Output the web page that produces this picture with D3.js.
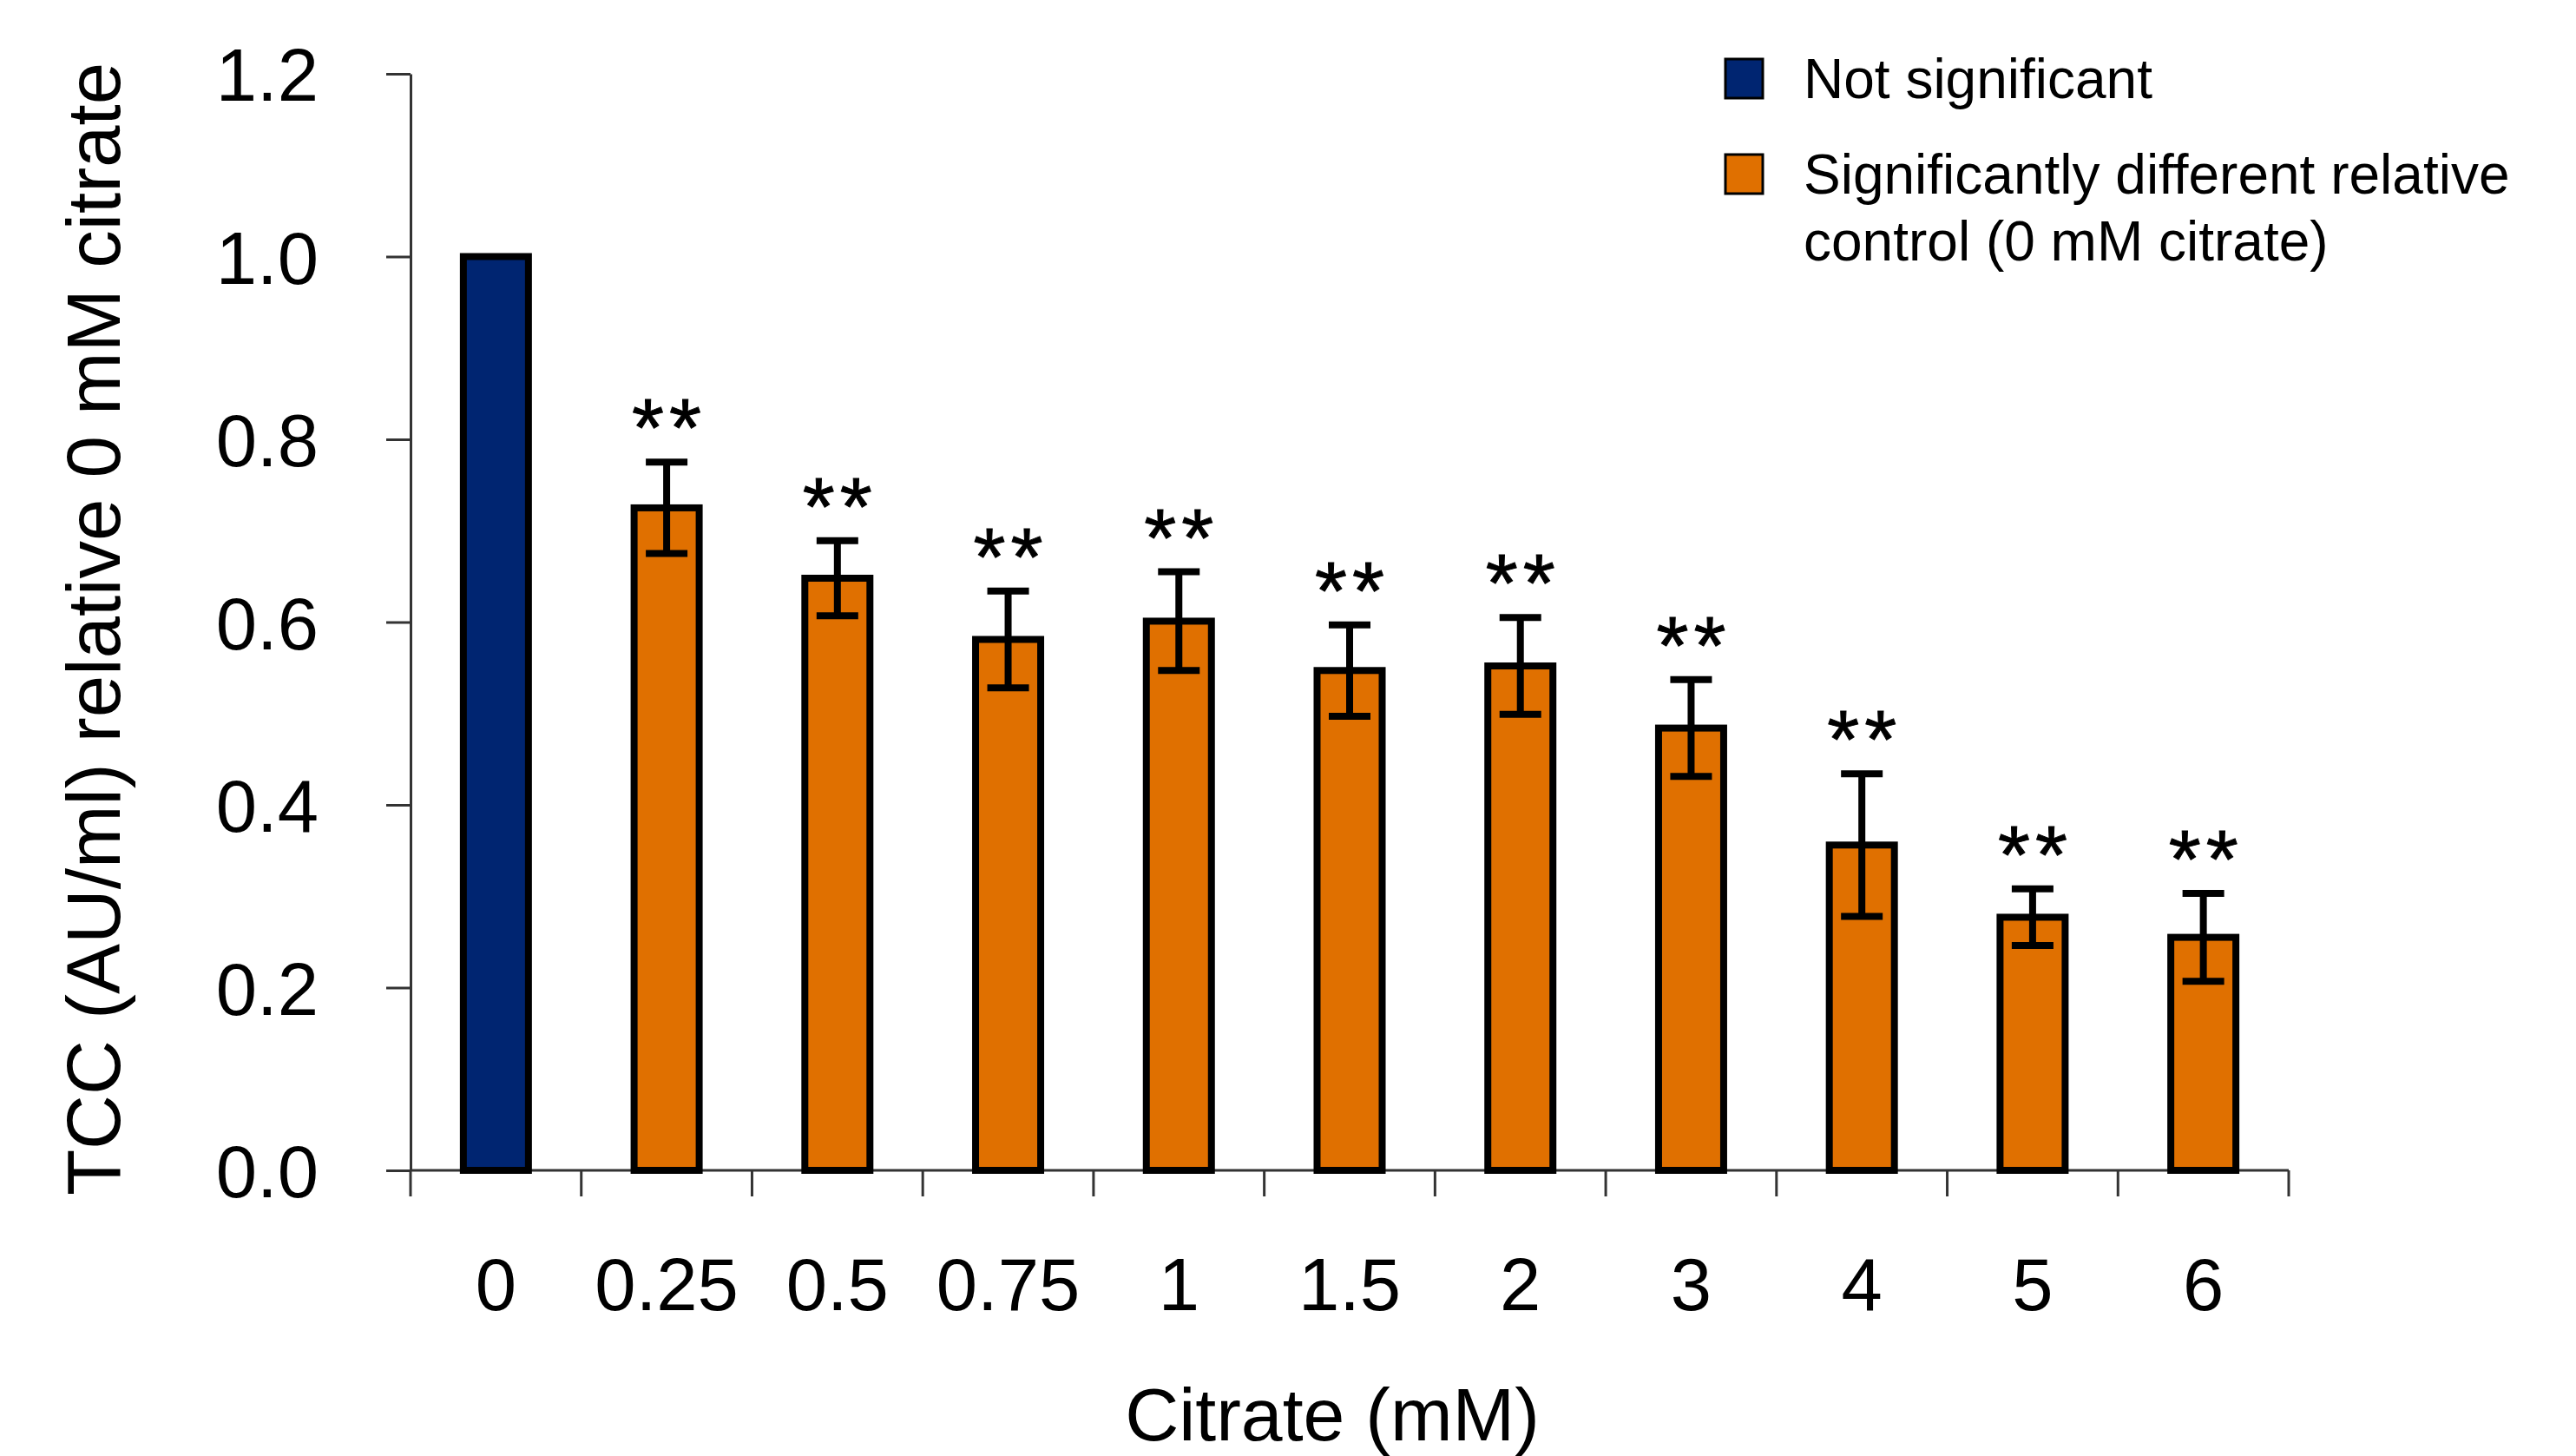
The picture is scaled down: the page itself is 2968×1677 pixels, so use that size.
<!DOCTYPE html>
<html>
<head>
<meta charset="utf-8">
<script src="https://cdn.jsdelivr.net/npm/d3@7"></script>
<style>
  body { margin: 0; background: #fff; }
  #chart { width: 2968px; height: 1677px; }
  text { font-family: "Liberation Sans", Arial, sans-serif; fill: #000; }
</style>
</head>
<body>
<div id="chart"></div>
<script>

    var categories = ["0", "0.25", "0.5", "0.75", "1", "1.5", "2", "3", "4", "5", "6"];
    var values = [1.0, 0.725, 0.648, 0.581, 0.601, 0.547, 0.552, 0.484, 0.356, 0.277, 0.255];
    var errors = [0, 0.05, 0.041, 0.053, 0.054, 0.05, 0.053, 0.053, 0.078, 0.031, 0.048];
    var significant = [false, true, true, true, true, true, true, true, true, true, true];
    var yTicks = [0, 0.2, 0.4, 0.6, 0.8, 1.0, 1.2];
    var legendLabels = [["Not significant"], ["Significantly different relative", "control (0 mM citrate)"]];
    var colors = ["#002571", "#e07000"];


    var width = 2968;
    var height = 1677;
    var margin = {top: 85, right: 331, bottom: 329, left: 473};

    var svg = d3.select("#chart")
        .append("svg")
        .attr("width", width)
        .attr("height", height);


    var xScale = d3.scaleBand()
        .domain(categories)
        .range([margin.left, width - margin.right])
        .padding(0);

    var yScale = d3.scaleLinear()
        .domain([0, 1.2])
        .range([height - margin.bottom, margin.top]);


    // y axis
    var yAxis = svg.append("g")
        .attr("transform", "translate(" + margin.left + ",0)")
        .call(d3.axisLeft(yScale)
            .tickValues(yTicks)
            .tickFormat(d3.format(".1f"))
            .tickSize(28)
            .tickPadding(78)
            .tickSizeOuter(0));

    yAxis.selectAll("text")
        .style("font-size", "85px")
        .style("font-family", "Liberation Sans, Arial, sans-serif")
        .attr("dy", "0.36em");


    // x axis, ticks sit at the band edges
    var xEdges = categories.map(function(d) { return xScale(d); });
    xEdges.push(width - margin.right);

    var xAxis = svg.append("g")
        .attr("transform", "translate(0," + yScale(0) + ")");

    xAxis.append("line")
        .attr("x1", margin.left)
        .attr("x2", width - margin.right)
        .attr("y1", 0)
        .attr("y2", 0);

    xAxis.selectAll(".edge")
        .data(xEdges)
        .enter()
        .append("line")
            .attr("class", "edge")
            .attr("x1", function(d) { return d; })
            .attr("x2", function(d) { return d; })
            .attr("y1", 0)
            .attr("y2", 30);

    xAxis.selectAll("line")
        .attr("stroke", "#333")
        .attr("stroke-width", 3);

    yAxis.select(".domain").attr("stroke", "#333").attr("stroke-width", 3);
    yAxis.selectAll(".tick line").attr("stroke", "#333").attr("stroke-width", 3);

    xAxis.selectAll(".label")
        .data(categories)
        .enter()
        .append("text")
            .attr("class", "label")
            .attr("x", function(d) { return xScale(d) + xScale.bandwidth() / 2; })
            .attr("y", 161)
            .attr("text-anchor", "middle")
            .style("font-size", "85px")
            .text(function(d) { return d; });


    // bars
    var barWidth = 75;

    svg.selectAll(".bar")
        .data(categories)
        .enter()
        .append("rect")
            .attr("class", "bar")
            .attr("x", function(d) { return xScale(d) + xScale.bandwidth() / 2 - barWidth / 2; })
            .attr("y", function(d, i) { return yScale(values[i]); })
            .attr("width", barWidth)
            .attr("height", function(d, i) { return yScale(0) - yScale(values[i]); })
            .attr("fill", function(d, i) { return significant[i] ? colors[1] : colors[0]; })
            .attr("stroke", "#000")
            .attr("stroke-width", 8);


    // error bars
    var capHalf = 24;

    var err = svg.selectAll(".err")
        .data(categories.filter(function(d, i) { return errors[i] > 0; }))
        .enter()
        .append("g")
            .attr("class", "err");

    err.each(function(d) {
        var i = categories.indexOf(d);
        var cx = xScale(d) + xScale.bandwidth() / 2;
        var g = d3.select(this);
        var top = yScale(values[i] + errors[i]);
        var bottom = yScale(values[i] - errors[i]);

        g.append("line")
            .attr("x1", cx).attr("x2", cx)
            .attr("y1", top).attr("y2", bottom)
            .attr("stroke", "#000").attr("stroke-width", 8);

        [top, bottom].forEach(function(y) {
            g.append("line")
                .attr("x1", cx - capHalf).attr("x2", cx + capHalf)
                .attr("y1", y).attr("y2", y)
                .attr("stroke", "#000").attr("stroke-width", 8);
        });

        if (significant[i]) {
            g.append("text")
                .attr("x", cx + 3)
                .attr("y", top - 7)
                .attr("text-anchor", "middle")
                .style("font-size", "95px")
                .style("letter-spacing", "6px")
                .style("stroke", "#000")
                .style("stroke-width", 1)
                .text("**");
        }
    });


    // axis titles
    svg.append("text")
        .attr("transform", "translate(138," + (yScale(0.6) + 8) + ") rotate(-90)")
        .attr("text-anchor", "middle")
        .style("font-size", "87px")
        .text("TCC (AU/ml) relative 0 mM citrate");

    svg.append("text")
        .attr("x", 1535)
        .attr("y", 1659)
        .attr("text-anchor", "middle")
        .style("font-size", "86px")
        .text("Citrate (mM)");


    // legend
    var legend = svg.append("g")
        .attr("transform", "translate(1988,68)");

    var legendRows = [0, 110];

    legendLabels.forEach(function(lines, i) {
        legend.append("rect")
            .attr("x", 0)
            .attr("y", legendRows[i])
            .attr("width", 43)
            .attr("height", 45)
            .attr("fill", colors[i])
            .attr("stroke", "#000")
            .attr("stroke-width", 3);

        lines.forEach(function(line, j) {
            legend.append("text")
                .attr("x", 90)
                .attr("y", legendRows[i] + 45 + j * 77)
                .style("font-size", "64px")
                .text(line);
        });
    });

</script>
</body>
</html>
